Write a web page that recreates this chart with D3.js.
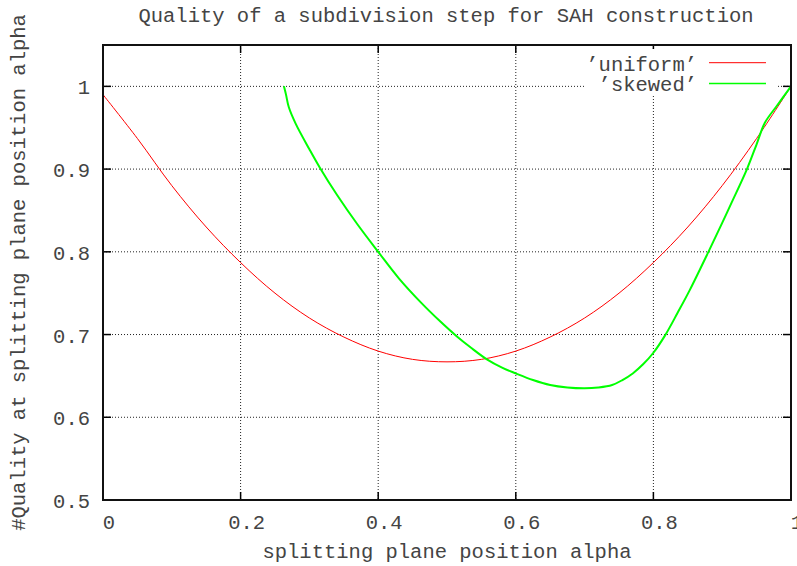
<!DOCTYPE html>
<html>
    <head>
        <meta charset="utf-8">
        <script src="https://d3js.org/d3.v7.min.js"></script>
        <title>SAH subdivision quality</title>
        <style>
            body {
                margin: 0;
                background: #fff;
            }
            svg text {
                font-family: "Liberation Mono", "DejaVu Sans Mono", monospace;
                font-size: 20.5px;
                fill: #444;
            }
        </style>
    </head>
    <body>
        <svg></svg>
    </body>
    <script>
        // data
        var uniformX = [0, 0.05, 0.1, 0.15, 0.2, 0.25, 0.3, 0.35, 0.4, 0.45, 0.5,
                        0.55, 0.6, 0.65, 0.7, 0.75, 0.8, 0.85, 0.9, 0.95, 1.0];
        var uniformY = [0.99, 0.937, 0.88, 0.83, 0.787, 0.75, 0.72, 0.697, 0.68, 0.67, 0.667,
                        0.67, 0.68, 0.697, 0.72, 0.75, 0.787, 0.83, 0.88, 0.937, 1.0];

        var skewedX = [0.263, 0.266, 0.27, 0.28, 0.3, 0.315, 0.34, 0.37, 0.4, 0.43, 0.463,
                       0.49, 0.514, 0.535, 0.558, 0.58, 0.6, 0.625, 0.65, 0.675, 0.7,
                       0.72, 0.74, 0.755, 0.77, 0.785, 0.8, 0.817, 0.835, 0.853, 0.88,
                       0.9, 0.914, 0.936, 0.95, 0.962, 0.979, 1.0];
        var skewedY = [1.0, 0.99, 0.975, 0.955, 0.924, 0.902, 0.869, 0.833, 0.8, 0.768, 0.738,
                       0.716, 0.698, 0.684, 0.67, 0.66, 0.653, 0.645, 0.639, 0.636, 0.635,
                       0.636, 0.639, 0.645, 0.653, 0.664, 0.678, 0.699, 0.726, 0.754, 0.8,
                       0.835, 0.86, 0.9, 0.93, 0.956, 0.976, 1.0];

        var xTicks = [0, 0.2, 0.4, 0.6, 0.8, 1];
        var yTicks = [0.5, 0.6, 0.7, 0.8, 0.9, 1];
        var seriesNames = ['\u2019uniform\u2019', '\u2019skewed\u2019'];
        var seriesColors = ['#ff0000', '#00ff00'];

        // size
        var W = 797, H = 566;
        var margin = {top: 45, right: 6, bottom: 66, left: 103},
            width = W - margin.left - margin.right,
            height = H - margin.top - margin.bottom;

        var x = d3.scaleLinear().domain([0, 1]).range([0, width]);
        var y = d3.scaleLinear().domain([0.5, 1.05]).range([height, 0]);

        var svg = d3.select('svg')
            .attr('width', W)
            .attr('height', H);

        var g = svg.append('g')
            .attr('transform', 'translate(' + margin.left + ',' + margin.top + ')');

        // grid
        g.selectAll('.gx').data(xTicks.filter(function (d) { return d > 0 && d < 1; }))
            .enter().append('line')
            .attr('x1', function (d) { return x(d); })
            .attr('x2', function (d) { return x(d); })
            .attr('y1', 0).attr('y2', height)
            .attr('stroke', '#222').attr('stroke-width', 1)
            .attr('stroke-dasharray', '1,2');

        g.selectAll('.gy').data(yTicks.filter(function (d) { return d > 0.5; }))
            .enter().append('line')
            .attr('y1', function (d) { return y(d); })
            .attr('y2', function (d) { return y(d); })
            .attr('x1', 0).attr('x2', width)
            .attr('stroke', '#222').attr('stroke-width', 1)
            .attr('stroke-dasharray', '1,2');

        // ticks (inward, mirrored)
        var tl = 8;
        xTicks.forEach(function (d) {
            g.append('line').attr('x1', x(d)).attr('x2', x(d))
                .attr('y1', height).attr('y2', height - tl)
                .attr('stroke', '#000').attr('stroke-width', 1.5);
            g.append('line').attr('x1', x(d)).attr('x2', x(d))
                .attr('y1', 0).attr('y2', tl)
                .attr('stroke', '#000').attr('stroke-width', 1.5);
        });
        yTicks.forEach(function (d) {
            g.append('line').attr('y1', y(d)).attr('y2', y(d))
                .attr('x1', 0).attr('x2', tl)
                .attr('stroke', '#000').attr('stroke-width', 1.5);
            g.append('line').attr('y1', y(d)).attr('y2', y(d))
                .attr('x1', width).attr('x2', width - tl)
                .attr('stroke', '#000').attr('stroke-width', 1.5);
        });

        // tick labels
        g.selectAll('.xl').data(xTicks)
            .enter().append('text')
            .attr('x', function (d) { return x(d) + 6; })
            .attr('y', height + 29)
            .style('text-anchor', 'middle')
            .text(function (d) { return d3.format('')(d); });

        g.selectAll('.yl').data(yTicks)
            .enter().append('text')
            .attr('x', -13)
            .attr('y', function (d) { return y(d) + 8; })
            .style('text-anchor', 'end')
            .text(function (d) { return d3.format('')(d); });

        // curves
        var line = d3.line()
            .x(function (d) { return x(d[0]); })
            .y(function (d) { return y(d[1]); })
            .curve(d3.curveCatmullRom);

        g.append('path')
            .datum(d3.zip(uniformX, uniformY))
            .attr('fill', 'none')
            .attr('stroke', seriesColors[0])
            .attr('stroke-width', 1)
            .attr('d', line);

        g.append('path')
            .datum(d3.zip(skewedX, skewedY))
            .attr('fill', 'none')
            .attr('stroke', seriesColors[1])
            .attr('stroke-width', 2)
            .attr('d', line);

        // border
        g.append('rect')
            .attr('width', width).attr('height', height)
            .attr('fill', 'none')
            .attr('stroke', '#111').attr('stroke-width', 2);

        // legend
        var lg = svg.append('g');
        lg.append('rect')
            .attr('x', 586).attr('y', 49)
            .attr('width', 192).attr('height', 46)
            .attr('fill', '#fff');

        seriesNames.forEach(function (name, i) {
            var ly = 62.7 + i * 20.7;
            lg.append('text')
                .attr('x', 697).attr('y', ly + 8)
                .style('text-anchor', 'end')
                .text(name);
            lg.append('line')
                .attr('x1', 709).attr('x2', 766)
                .attr('y1', ly).attr('y2', ly)
                .attr('stroke', seriesColors[i])
                .attr('stroke-width', i === 1 ? 1.5 : 1);
        });

        // titles
        svg.append('text')
            .attr('x', 446).attr('y', 22)
            .style('text-anchor', 'middle')
            .text('Quality of a subdivision step for SAH construction');

        svg.append('text')
            .attr('x', margin.left + width / 2).attr('y', 558)
            .style('text-anchor', 'middle')
            .text('splitting plane position alpha');

        svg.append('text')
            .attr('transform', 'translate(25,' + (margin.top + height / 2) + ') rotate(-90)')
            .style('text-anchor', 'middle')
            .text('#Quality at splitting plane position alpha');
    </script>
</html>
